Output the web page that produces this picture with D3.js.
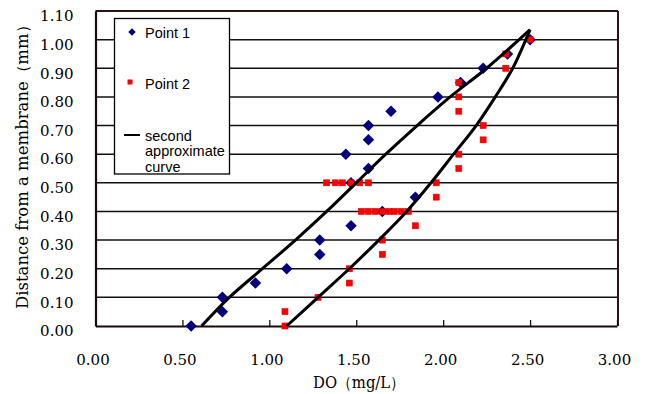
<!DOCTYPE html>
<html>
<head>
<meta charset="utf-8">
<script src="https://cdn.jsdelivr.net/npm/d3@7"></script>
<style>
  body { margin: 0; background: #fff; }
  svg { display: block; }
</style>
</head>
<body>
<div class="chart-container"></div>
<script>
var width = 649;
var height = 394;
var margin = { top: 11, right: 32, bottom: 68, left: 95.5 };

// Point 1 (blue diamonds)
var point1X = [0.55, 0.73, 0.73, 0.92, 1.10, 1.29, 1.29, 1.47, 1.65, 1.84, 1.47, 1.57, 1.44, 1.57, 1.57, 1.70, 1.97, 2.10, 2.23, 2.37, 2.50];
var point1Y = [0.00, 0.10, 0.05, 0.15, 0.20, 0.30, 0.25, 0.35, 0.40, 0.45, 0.50, 0.55, 0.60, 0.65, 0.70, 0.75, 0.80, 0.85, 0.90, 0.95, 1.00];

// Point 2 (red squares)
var point2X = [1.09, 1.09, 1.28, 1.46, 1.46, 1.65, 1.65, 1.84,
  1.53, 1.57, 1.61, 1.65, 1.69, 1.72, 1.76, 1.80,
  1.96, 1.33, 1.38, 1.42, 1.47, 1.52, 1.57,
  1.96, 2.09, 2.09, 2.23, 2.23, 2.09, 2.09, 2.09, 2.36, 2.36, 2.50];
var point2Y = [0.00, 0.05, 0.10, 0.15, 0.20, 0.25, 0.30, 0.35,
  0.40, 0.40, 0.40, 0.40, 0.40, 0.40, 0.40, 0.40,
  0.45, 0.50, 0.50, 0.50, 0.50, 0.50, 0.50,
  0.50, 0.55, 0.60, 0.65, 0.70, 0.75, 0.80, 0.85, 0.90, 0.95, 1.00];

// second approximate curves
var curve1X = [0.61, 0.77, 0.96, 1.15, 1.33, 1.50, 1.67, 1.85, 2.04, 2.25, 2.50];
var curve1Y = [0.00, 0.10, 0.20, 0.30, 0.40, 0.50, 0.60, 0.70, 0.80, 0.90, 1.035];
var curve2X = [1.10, 1.28, 1.46, 1.63, 1.79, 1.93, 2.06, 2.19, 2.30, 2.40, 2.50];
var curve2Y = [0.00, 0.10, 0.20, 0.30, 0.40, 0.50, 0.60, 0.70, 0.80, 0.90, 1.035];

var xTicks = [0, 0.5, 1, 1.5, 2, 2.5, 3];
var yTicks = [0, 0.1, 0.2, 0.3, 0.4, 0.5, 0.6, 0.7, 0.8, 0.9, 1.0, 1.1];
var legendLabels = ["Point 1", "Point 2", "second approximate curve"];

var x = d3.scaleLinear().domain([0, 3]).range([margin.left, width - margin.right]);
var y = d3.scaleLinear().domain([0, 1.1]).range([height - margin.bottom, margin.top]);

var svg = d3
  .select(".chart-container")
  .append("svg")
  .attr("width", width)
  .attr("height", height);

// gridlines
svg.append("g")
  .selectAll("line")
  .data(yTicks.slice(1, -1))
  .enter()
  .append("line")
  .attr("x1", x(0))
  .attr("x2", x(3))
  .attr("y1", (d) => y(d))
  .attr("y2", (d) => y(d))
  .style("stroke", "#111")
  .style("stroke-width", 1.5);

// plot frame: top and right
svg.append("line")
  .attr("x1", x(0)).attr("x2", x(3) + 1)
  .attr("y1", y(1.1)).attr("y2", y(1.1))
  .style("stroke", "#2a1414").style("stroke-width", 2);
svg.append("line")
  .attr("x1", x(3) + 1).attr("x2", x(3) + 1)
  .attr("y1", y(1.1)).attr("y2", y(0))
  .style("stroke", "#2a1414").style("stroke-width", 2);

// x axis
var xAxis = svg.append("g")
  .attr("transform", "translate(0," + y(0) + ")")
  .call(d3.axisBottom(x).tickValues(xTicks).tickSizeInner(-6).tickSizeOuter(0).tickFormat(d3.format(".2f")));
xAxis.select(".domain").style("stroke", "#1a0a0a").style("stroke-width", 2.2);
xAxis.selectAll(".tick line").style("stroke", "#111").style("stroke-width", 1.3);
xAxis.selectAll(".tick text")
  .attr("y", 28)
  .attr("dx", -3)
  .style("font-family", "DejaVu Serif")
  .style("font-size", "15px")
  .style("fill", "#000");

// y axis
var yAxis = svg.append("g")
  .attr("transform", "translate(" + x(0) + ",0)")
  .call(d3.axisLeft(y).tickValues(yTicks).tickSize(0).tickFormat(d3.format(".2f")));
yAxis.select(".domain").style("stroke", "#1a0a0a").style("stroke-width", 2.2);
yAxis.selectAll(".tick text")
  .attr("x", -22)
  .attr("dy", "0.65em")
  .style("font-family", "DejaVu Serif")
  .style("font-size", "15px")
  .style("fill", "#000");

// axis titles
svg.append("text")
  .attr("transform", "translate(28,163) rotate(-90)")
  .attr("text-anchor", "middle")
  .attr("textLength", 292)
  .attr("lengthAdjust", "spacingAndGlyphs")
  .style("font-family", "DejaVu Serif")
  .style("font-size", "16px")
  .text("Distance from a membrane（mm）");

svg.append("text")
  .attr("x", 359)
  .attr("y", 388)
  .attr("text-anchor", "middle")
  .attr("textLength", 92)
  .attr("lengthAdjust", "spacingAndGlyphs")
  .style("font-family", "DejaVu Serif")
  .style("font-size", "16px")
  .text("DO（mg/L）");

// points
var diamond = d3.symbol().type(d3.symbolDiamond2).size(84);

svg.append("g")
  .selectAll("path")
  .data(point1X.map((d, i) => [d, point1Y[i]]))
  .enter()
  .append("path")
  .attr("d", diamond)
  .attr("transform", (d) => "translate(" + x(d[0]) + "," + y(d[1]) + ")")
  .style("fill", "#000080");

svg.append("g")
  .selectAll("rect")
  .data(point2X.map((d, i) => [d, point2Y[i]]))
  .enter()
  .append("rect")
  .attr("x", (d) => x(d[0]) - 3)
  .attr("y", (d) => y(d[1]) - 3)
  .attr("width", 6)
  .attr("height", 6)
  .style("fill", "#ff0000")
  .style("stroke", "#e00000")
  .style("stroke-width", 0.6);

// curves
var lineGenerator = d3.line()
  .x((d) => x(d[0]))
  .y((d) => y(d[1]))
  .curve(d3.curveCatmullRom);

[[curve1X, curve1Y], [curve2X, curve2Y]].forEach(function (c) {
  svg.append("path")
    .attr("d", lineGenerator(c[0].map((d, i) => [d, c[1][i]])))
    .style("fill", "none")
    .style("stroke", "#000")
    .style("stroke-width", 3);
});

// legend
var legend = svg.append("g");
legend.append("rect")
  .attr("x", 114.5)
  .attr("y", 18.5)
  .attr("width", 115)
  .attr("height", 155.5)
  .style("fill", "#fff")
  .style("stroke", "#000")
  .style("stroke-width", 1.3);

legend.append("path")
  .attr("d", d3.symbol().type(d3.symbolDiamond2).size(36))
  .attr("transform", "translate(132,32)")
  .style("fill", "#000080");
legend.append("rect")
  .attr("x", 127.5).attr("y", 79.5).attr("width", 5).attr("height", 5)
  .style("fill", "#ff0000");
legend.append("line")
  .attr("x1", 124).attr("x2", 140).attr("y1", 135).attr("y2", 135)
  .style("stroke", "#000").style("stroke-width", 2);

var legendStyle = function (t) {
  t.style("font-family", "Liberation Sans").style("font-size", "14.5px").style("fill", "#000");
};
legend.append("text").attr("x", 145).attr("y", 37.5).call(legendStyle).text(legendLabels[0]);
legend.append("text").attr("x", 145).attr("y", 88.5).call(legendStyle).text(legendLabels[1]);
var words = legendLabels[2].split(" ");
legend.append("text")
  .attr("x", 145)
  .attr("y", 140.5)
  .call(legendStyle)
  .selectAll("tspan")
  .data(words)
  .enter()
  .append("tspan")
  .attr("x", 145)
  .attr("dy", (d, i) => (i === 0 ? 0 : 15.5))
  .text((d) => d);
</script>
</body>
</html>
